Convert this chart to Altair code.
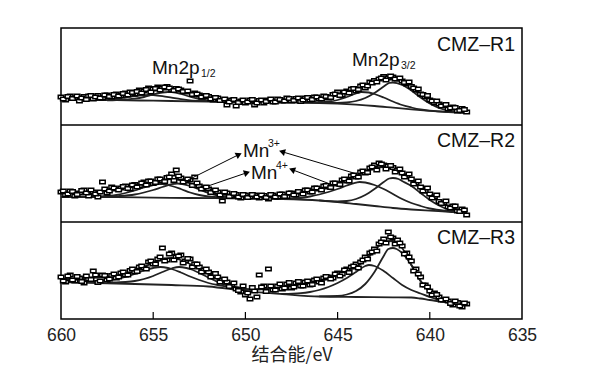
import math
import altair as alt
import pandas as pd

# ---------------- data (heights in panel units, 97 units per panel) ----------------
PANELS = ["CMZ–R1", "CMZ–R2", "CMZ–R3"]
PANEL_BASE = {"CMZ–R1": 194, "CMZ–R2": 97, "CMZ–R3": 0}

SCAT_E = [660.0, 659.75, 659.5, 659.25, 659.0, 658.75, 658.5, 658.25, 658.0, 657.75,
          657.5, 657.25, 657.0, 656.75, 656.5, 656.25, 656.0, 655.75, 655.5, 655.25,
          655.0, 654.75, 654.5, 654.25, 654.0, 653.75, 653.5, 653.25, 653.0, 652.75,
          652.5, 652.25, 652.0, 651.75, 651.5, 651.25, 651.0, 650.75, 650.5, 650.25,
          650.0, 649.75, 649.5, 649.25, 649.0, 648.75, 648.5, 648.25, 648.0, 647.75,
          647.5, 647.25, 647.0, 646.75, 646.5, 646.25, 646.0, 645.75, 645.5, 645.25,
          645.0, 644.75, 644.5, 644.25, 644.0, 643.75, 643.5, 643.25, 643.0, 642.75,
          642.5, 642.25, 642.0, 641.75, 641.5, 641.25, 641.0, 640.75, 640.5, 640.25,
          640.0, 639.75, 639.5, 639.25, 639.0, 638.75, 638.5, 638.25, 638.0]
SCAT_E2 = [659.875, 659.625, 659.375, 659.125, 658.875, 658.625, 658.375, 658.125, 657.875, 657.625,
           657.375, 657.125, 656.875, 656.625, 656.375, 656.125, 655.875, 655.625, 655.375, 655.125,
           654.875, 654.625, 654.375, 654.125, 653.875, 653.625, 653.375, 653.125, 652.875, 652.625,
           652.375, 652.125, 651.875, 651.625, 651.375, 651.125, 650.875, 650.625, 650.375, 650.125,
           649.875, 649.625, 649.375, 649.125, 648.875, 648.625, 648.375, 648.125, 647.875, 647.625,
           647.375, 647.125, 646.875, 646.625, 646.375, 646.125, 645.875, 645.625, 645.375, 645.125,
           644.875, 644.625, 644.375, 644.125, 643.875, 643.625, 643.375, 643.125, 642.875, 642.625,
           642.375, 642.125, 641.875, 641.625, 641.375, 641.125, 640.875, 640.625, 640.375, 640.125,
           639.875, 639.625, 639.375, 639.125, 638.875, 638.625, 638.375, 638.125]

R1_PTS = [28, 25, 29, 27, 24, 28.5, 29, 26, 29.5, 27, 30, 28, 31, 29.5, 32, 33, 31, 35, 34, 37,
          36, 38, 37, 38.5, 35, 36.5, 35, 33, 44, 32, 30, 29, 28.5, 25, 27, 24.5, 20, 25, 19, 24,
          22, 25, 20, 24.5, 22, 25, 23, 26, 24, 27, 24, 26.5, 23.5, 27, 25, 28, 26, 29, 27, 30.5,
          33, 30, 34, 36, 34, 39, 37, 43, 44.5, 46, 48.5, 47, 48, 46, 44, 41, 38.5, 35, 31, 28.5,
          25, 22, 21, 19.5, 16, 18, 14, 16.5, 13]
R1_PTS2 = [26, 28.5, 26.5, 29, 27, 25.5, 29.5, 28, 27, 30, 28.5, 30.5, 29, 31.5, 30, 32.5, 33.5, 32,
           35.5, 33, 36.5, 35, 38, 37, 34.5, 36, 33.5, 34, 30.5, 31, 28, 29.5, 26, 27.5, 24.5, 26,
           23, 25.5, 22.5, 25, 23, 25.5, 22, 25, 23.5, 26, 23, 25.5, 24, 26.5, 24.5, 27, 25, 27.5,
           25.5, 28, 26, 28.5, 27.5, 31, 29.5, 33, 32, 36.5, 35.5, 40, 39, 42, 43, 47, 45, 49, 46,
           47, 42.5, 43, 37, 36, 30.5, 29.5, 24, 24, 19, 20.5, 17, 17.5, 14.5, 15.5]
R2_PTS = [30, 27, 31, 26, 29, 32, 26, 30, 25, 40, 29, 35, 33, 34, 36, 33, 37.5, 36, 40, 41,
          38.5, 43, 41, 44.5, 48, 52, 44, 41, 42, 45, 36, 34, 33, 31, 30, 21, 29, 26, 27.5, 24,
          27, 25, 27, 24, 26.5, 23, 27, 25, 28, 25.5, 29, 27, 30, 32, 30, 34, 33, 36, 35, 39,
          38, 42, 41, 46, 45, 50, 49, 54, 57, 59, 57, 56, 54.5, 52, 49, 46, 43, 39, 35, 31,
          28, 25, 20.5, 19, 15, 16, 11, 13, 7]
R2_PTS2 = [31, 28, 30.5, 27.5, 31.5, 29, 32, 28, 30, 33, 31, 34, 32, 35.5, 33.5, 37, 35, 39, 37, 41,
           39.5, 43, 40.5, 45, 41.5, 46, 40, 43, 36.5, 39, 33, 35, 29.5, 32, 27, 30, 25.5, 28.5, 25,
           27.5, 24.5, 27.5, 25, 27, 24.5, 27.5, 25, 28, 25.5, 29, 27, 30.5, 28, 32, 30, 34, 32,
           36.5, 34.5, 39, 37.5, 43, 41, 47, 45, 51, 49.5, 55, 52, 58, 53, 56.5, 50, 53, 45, 48,
           38, 41, 31, 34, 24, 27, 18.5, 21, 14, 16, 10.5, 12]
R3_PTS = [42, 37, 44, 38, 41, 36, 40, 48, 36.5, 44, 39, 43.5, 41, 46, 44, 48.5, 47, 52, 51, 57,
          55, 60, 71, 59, 66, 62, 64, 58, 60, 55, 52, 49, 47, 43, 42, 39, 37, 34, 30, 27,
          24, 20, 28, 44, 33, 50, 29, 33, 30, 35, 31, 36, 33, 37, 34, 39, 37, 41, 42, 41,
          46, 45, 50, 52, 55, 57, 62, 66, 70, 75, 80, 87, 81, 79, 73, 66, 58, 50, 42, 34,
          28, 26, 22, 19, 18, 14, 16.5, 12, 15]
R3_PTS2 = [38, 43, 39, 42.5, 37.5, 43, 39.5, 44, 38, 43.5, 40, 45, 42, 47, 44, 50, 47.5, 53, 50, 58,
           55, 62, 58, 65, 59, 63, 56, 60.5, 52, 55, 47, 50, 42, 45.5, 37, 40, 32.5, 36, 28.5, 33,
           26, 31.5, 22, 32, 27.5, 33, 29, 35, 31, 36.5, 32, 37.5, 33, 38, 34.5, 40, 36, 42.5, 40,
           45, 43, 49, 46.5, 53, 51, 59, 60, 67, 68, 77, 76, 82, 75, 76, 65, 62, 48, 45, 34, 32,
           24, 24.5, 19, 20, 15.5, 18, 13, 16]

ENV_E = [660, 659.5, 659, 658.5, 658, 657.5, 657, 656.5, 656, 655.5, 655, 654.5, 654, 653.5,
         653, 652.5, 652, 651.5, 651, 650.5, 650, 649.5, 649, 648.5, 648, 647.5, 647, 646.5,
         646, 645.5, 645, 644.5, 644, 643.5, 643, 642.5, 642, 641.5, 641, 640.5, 640, 639.5,
         639, 638.5, 638]
R1_ENV = [27, 27, 27.5, 28, 28.5, 29, 30, 31, 32, 33.5, 35, 36, 36, 34.5, 32, 29.5, 27.5, 26, 25,
          24.5, 24, 24, 24, 24.5, 25, 25.5, 26, 26.5, 27, 28, 30, 32.5, 36, 39.5, 43, 46, 46.5,
          43, 37, 30, 24, 20, 17, 15, 14]
R2_ENV = [29, 29.5, 30, 30.5, 31, 32, 33, 34.5, 36, 38, 40, 42, 43, 42, 39, 35, 31.5, 29, 27.5,
          26.5, 26, 26, 26, 26.5, 27, 28, 29.5, 31, 33, 35.5, 38.5, 42, 46, 50.5, 54, 55, 53,
          48, 41, 34, 27, 21, 16, 12.5, 10]
R3_ENV = [40, 40, 40.5, 41, 41.5, 42, 43, 45, 48, 52, 56, 59.5, 61, 59, 55, 50, 45, 40, 35.5,
          32, 30, 29.5, 30, 31, 32, 33, 34, 35.5, 37.5, 40.5, 44, 48, 52, 59, 68, 77, 78, 71,
          54, 38, 27, 21, 17.5, 15.5, 14]

# backgrounds (energy, height)
R1_BG = [(660, 25), (657, 24.8), (655, 24.3), (653, 23.7), (650, 23), (648, 22.6), (646, 22),
         (645, 21.3), (644, 20.3), (643, 19), (642, 17.3), (641, 15.6), (640, 14.2), (639, 13), (638, 12)]
R2_BG = [(660, 25), (657, 24.8), (655, 24.4), (653, 24), (650, 23.5), (648, 23), (646, 21.5),
         (645, 20), (644, 18), (643, 16), (642, 14), (641, 12.5), (640, 11.3), (639, 10.2), (638, 9.5)]
R3_BG = [(660, 37), (658, 36), (656, 35), (654, 34), (652, 32.5), (650, 28), (648, 25), (646, 22.5),
         (644, 22), (642, 21.7), (641, 21.5), (640.5, 20.5), (640, 19), (639, 16.5), (638, 14)]

# fitted components (energy, height)
R1_A = [(647, 22.3), (646, 22.5), (645.5, 23.3), (645, 25), (644.5, 28), (644, 31.5), (643.7, 33),
        (643.3, 32.5), (643, 31), (642.5, 27.5), (642, 23.5), (641.5, 20), (641, 17.5), (640.5, 15.5),
        (640, 14.3), (639, 13)]
R1_B = [(646, 22), (645, 22), (644.5, 22.5), (644, 24), (643.5, 27), (643, 32), (642.5, 38.5),
        (642.2, 42), (642, 42.5), (641.5, 40), (641, 34.5), (640.5, 27.5), (640, 21.5), (639.5, 17),
        (639, 14.5), (638.5, 13), (638, 12.2)]
R1_C = [(659, 25), (658, 25.3), (657, 26.3), (656.5, 27.5), (656, 28.8), (655.5, 29.8), (655.2, 30),
        (655, 29.8), (654.5, 28.8), (654, 27.3), (653.5, 25.8), (653, 24.7), (652, 24), (651, 23.4)]
R1_D = [(657.5, 24.7), (657, 25), (656, 26.3), (655.5, 28), (655, 30.5), (654.5, 32.5), (654.2, 33),
        (654, 32.8), (653.5, 31), (653, 28.3), (652.5, 26), (652, 24.6), (651, 23.5), (650, 23)]

R2_A = [(648, 23), (647, 24), (646.5, 25.5), (646, 27.5), (645.5, 30), (645, 33), (644.5, 36.5),
        (644, 39.3), (643.8, 40), (643.5, 39.5), (643, 37), (642.5, 33), (642, 28), (641.5, 23),
        (641, 19), (640.5, 16), (640, 13.5), (639, 11), (638, 9.8)]
R2_B = [(646, 21.6), (645, 20.5), (644.5, 21), (644, 23), (643.5, 27), (643, 33), (642.5, 40),
        (642.2, 43.5), (642, 44), (641.7, 43), (641.5, 41), (641, 36), (640.5, 29), (640, 22),
        (639.5, 16.5), (639, 12.5), (638.5, 10.5), (638, 9.7)]
R2_C = [(659, 25), (658, 25.5), (657, 27), (656.5, 29), (656, 31.5), (655.5, 34.5), (655, 37),
        (654.7, 38), (654.5, 37.8), (654, 36), (653.5, 33), (653, 29.5), (652.5, 27), (652, 25.5),
        (651, 24.3), (650, 23.7)]
R2_D = [(657.5, 25.3), (657, 25.8), (656, 27.5), (655.5, 29.5), (655, 32), (654.5, 35), (654, 37.8),
        (653.7, 38.5), (653.5, 38.2), (653, 36), (652.5, 32.5), (652, 29), (651.5, 26.5), (651, 25),
        (650, 24)]

R3_A = [(648, 25), (647, 25.8), (646.5, 27), (646, 29), (645.5, 32), (645, 36), (644.5, 41), (644, 47),
        (643.5, 53), (643.3, 54), (643, 53), (642.5, 48), (642, 41), (641.5, 34), (641, 29),
        (640.5, 25.5), (640, 22), (639.5, 19), (639, 17), (638, 14.2)]
R3_B = [(646, 22.6), (645, 23), (644.5, 24.5), (644, 28), (643.5, 35), (643, 47), (642.5, 63),
        (642.25, 70), (642, 71), (641.8, 70), (641.5, 66), (641, 54), (640.5, 38), (640, 27),
        (639.5, 20.5), (639, 17), (638.5, 15.2), (638, 14.2)]
R3_C = [(659, 37.3), (658, 38), (657, 40), (656.5, 42), (656, 45), (655.5, 48.5), (655, 51),
        (654.6, 52), (654.2, 51), (654, 50), (653.5, 46.5), (653, 42.5), (652.5, 39), (652, 36),
        (651.5, 34), (651, 32.5), (650, 30)]
R3_D = [(657.5, 36.5), (657, 36.5), (656.5, 37), (656, 38), (655.5, 40), (655, 43), (654.5, 47),
        (654, 50.5), (653.6, 52), (653.2, 51), (653, 50), (652.5, 46), (652, 41.5), (651.5, 37),
        (651, 33.5), (650.5, 31), (650, 29.5)]

TICK_VALUES = [660, 655, 650, 645, 640, 635]

# ---------------- build tables ----------------
pts = []
for name, vals, vals2 in zip(PANELS, [R1_PTS, R2_PTS, R3_PTS], [R1_PTS2, R2_PTS2, R3_PTS2]):
    for e, h in zip(SCAT_E, vals):
        pts.append({"E": e, "v": h + PANEL_BASE[name]})
    for e, h in zip(SCAT_E2, vals2):
        pts.append({"E": e, "v": h + PANEL_BASE[name]})
pts = pd.DataFrame(pts)

curves = []
def add_curve(panel, key, pairs):
    for i, (e, h) in enumerate(pairs):
        curves.append({"E": e, "v": h + PANEL_BASE[panel], "key": panel + key, "i": i})

for name, env in zip(PANELS, [R1_ENV, R2_ENV, R3_ENV]):
    add_curve(name, "env", list(zip(ENV_E, env)))
for name, comps in zip(PANELS, [[R1_BG, R1_A, R1_B, R1_C, R1_D],
                                [R2_BG, R2_A, R2_B, R2_C, R2_D],
                                [R3_BG, R3_A, R3_B, R3_C, R3_D]]):
    for k, c in zip(["bg", "A", "B", "C", "D"], comps):
        add_curve(name, k, c)
curves = pd.DataFrame(curves)

# ---------------- geometry helpers for annotations ----------------
W, H = 461, 291
X0, X1 = 660, 635
def px2E(px):
    return X0 - (px - 61) / W * (X0 - X1)
def py2v(py):
    return 319 - py

FONT = "Liberation Sans"
xscale = alt.Scale(domain=[X0, X1], nice=False, zero=False)
yscale = alt.Scale(domain=[0, H], nice=False, zero=False)
xaxis = alt.Axis(values=TICK_VALUES, ticks=False, domain=False, grid=False, labelFlush=False,
                 labelFont=FONT, labelFontSize=17.5, labelColor="#222", labelPadding=7,
                 title="结合能/eV", titleFont="Noto Sans CJK SC", titleFontSize=18,
                 titleFontWeight="normal", titleColor="#222", titlePadding=3)

def X(field="E"):
    return alt.X(f"{field}:Q", scale=xscale, axis=xaxis)
def Y(field="v"):
    return alt.Y(f"{field}:Q", scale=yscale, axis=None)

line_layer = alt.Chart(curves).mark_line(interpolate="monotone", color="#222", strokeWidth=1.8).encode(
    x=X(), y=Y(), detail="key:N", order="i:Q")

square_path = "M-1,-0.62H1V0.62H-1Z"
pt_layer = alt.Chart(pts).mark_point(shape=square_path, filled=True, fill="white", stroke="black",
                                     strokeWidth=1.5, size=30, opacity=1).encode(x=X(), y=Y())

dividers = alt.Chart(pd.DataFrame({"v": [97, 194]})).mark_rule(color="black", strokeWidth=1.5).encode(y=Y())

ticks = alt.Chart(pd.DataFrame({"E": TICK_VALUES[1:-1]})).mark_rule(color="black", strokeWidth=1.2).encode(
    x=X(), y=alt.value(H - 7), y2=alt.value(H))

# panel names
names = pd.DataFrame({"E": [px2E(515)] * 3, "v": [py2v(45), py2v(141), py2v(238)], "t": PANELS})
name_layer = alt.Chart(names).mark_text(align="right", baseline="middle", font=FONT, fontSize=19.5,
                                        color="#111").encode(x=X(), y=Y(), text="t:N")

big = pd.DataFrame({
    "E": [px2E(152), px2E(352), px2E(243), px2E(251)],
    "v": [py2v(68), py2v(60), py2v(151), py2v(173)],
    "t": ["Mn2p", "Mn2p", "Mn", "Mn"]})
big_layer = alt.Chart(big).mark_text(align="left", baseline="middle", font=FONT, fontSize=19,
                                     color="#111").encode(x=X(), y=Y(), text="t:N")
small = pd.DataFrame({
    "E": [px2E(201), px2E(401), px2E(268), px2E(276)],
    "v": [py2v(74), py2v(66), py2v(144), py2v(166)],
    "t": ["1/2", "3/2", "3+", "4+"]})
small_layer = alt.Chart(small).mark_text(align="left", baseline="middle", font=FONT, fontSize=10.5,
                                         color="#111").encode(x=X(), y=Y(), text="t:N")

# arrows (start px, end px) -> head at end
ARROWS = [((188, 180), (238, 155)), ((208, 186), (246, 173)),
          ((357, 174), (283, 152)), ((330, 184), (293, 170))]
arr_rows, head_rows = [], []
for k, ((sx, sy), (ex, ey)) in enumerate(ARROWS):
    arr_rows.append({"E": px2E(sx), "v": py2v(sy), "E2": px2E(ex), "v2": py2v(ey)})
    ang = math.degrees(math.atan2(ex - sx, -(ey - sy))) % 360
    head_rows.append({"E": px2E(ex), "v": py2v(ey), "ang": ang})
arr_layer = alt.Chart(pd.DataFrame(arr_rows)).mark_rule(color="black", strokeWidth=1).encode(
    x=X(), y=Y(), x2="E2:Q", y2="v2:Q")
head_layer = alt.Chart(pd.DataFrame(head_rows)).mark_point(shape="triangle", filled=True, color="black",
                                                           size=50, opacity=1).encode(
    x=X(), y=Y(), angle=alt.Angle("ang:Q", scale=None))

chart = alt.layer(line_layer, pt_layer, dividers, ticks, name_layer, big_layer, small_layer,
                  arr_layer, head_layer).properties(
    width=W, height=H,
    background="white",
    autosize=alt.AutoSizeParams(type="none"),
    padding={"left": 53, "top": 20, "right": 70, "bottom": 54},
).configure_view(stroke="black", strokeWidth=1.5)

chart.save("out.html", embed_options={"renderer": "svg", "actions": False})
